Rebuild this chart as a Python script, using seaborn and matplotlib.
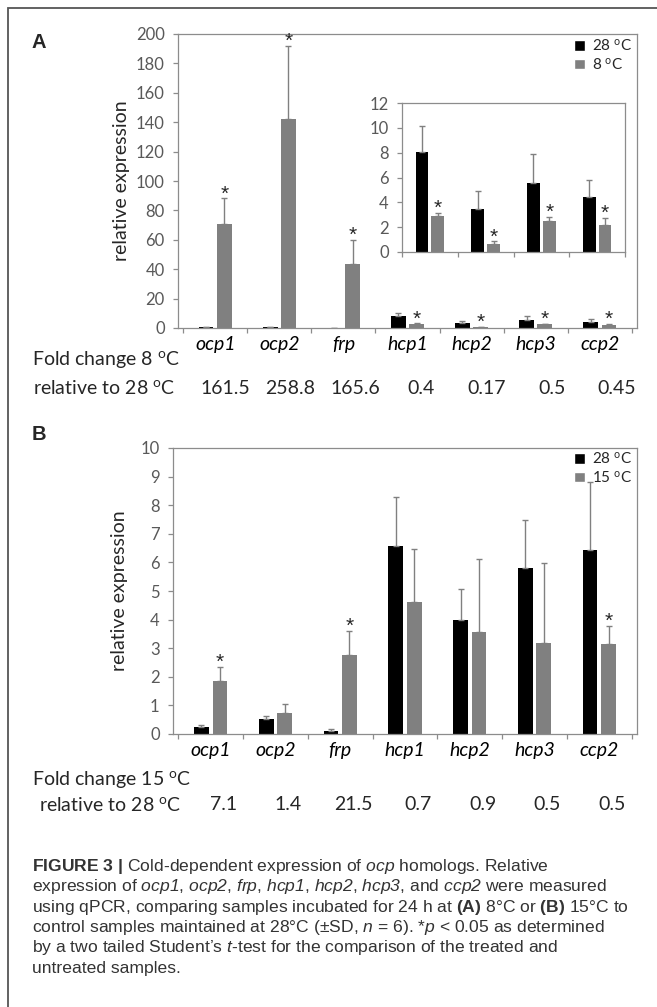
import numpy as np
import pandas as pd
import matplotlib
matplotlib.use("Agg")
import matplotlib.pyplot as plt
import seaborn as sns
from matplotlib.patches import Patch, Rectangle
from matplotlib.transforms import blended_transform_factory

# ---- data ----
genes = ["ocp1", "ocp2", "frp", "hcp1", "hcp2", "hcp3", "ccp2"]

# panel A: 28 C control vs 8 C
a_28 = [0.44, 0.55, 0.26, 8.03, 3.44, 5.58, 4.40]
a_28_sd = [0.1, 0.3, 0.05, 2.14, 1.50, 2.34, 1.40]
a_8 = [71.0, 142.3, 43.5, 2.93, 0.64, 2.47, 2.15]
a_8_sd = [17.2, 49.5, 16.4, 0.24, 0.22, 0.38, 0.62]
a_sig = [True, True, True, True, True, True, True]
a_fold = ["161.5", "258.8", "165.6", "0.4", "0.17", "0.5", "0.45"]

# panel B: 28 C control vs 15 C
b_28 = [0.26, 0.51, 0.12, 6.58, 4.00, 5.80, 6.43]
b_28_sd = [0.04, 0.11, 0.07, 1.72, 1.08, 1.67, 2.37]
b_15 = [1.84, 0.72, 2.77, 4.60, 3.55, 3.17, 3.15]
b_15_sd = [0.52, 0.32, 0.83, 1.86, 2.56, 2.82, 0.64]
b_sig = [True, False, True, False, False, False, True]
b_fold = ["7.1", "1.4", "21.5", "0.7", "0.9", "0.5", "0.5"]

caption = [
    r"$\mathbf{FIGURE\ 3\ |}$ Cold-dependent expression of $\mathit{ocp}$ homologs. Relative",
    r"expression of $\mathit{ocp1}$, $\mathit{ocp2}$, $\mathit{frp}$, $\mathit{hcp1}$, $\mathit{hcp2}$, $\mathit{hcp3}$, and $\mathit{ccp2}$ were measured",
    r"using qPCR, comparing samples incubated for 24 h at $\mathbf{(A)}$ 8°C or $\mathbf{(B)}$ 15°C to",
    r"control samples maintained at 28°C (±SD, $\mathit{n}$ = 6). *$\mathit{p}$ < 0.05 as determined",
    r"by a two tailed Student’s $\mathit{t}$-test for the comparison of the treated and",
    "untreated samples.",
]

BLACK = "#000000"
GRAY = "#808080"
ERR = "#808080"
SPINE = "#8c8c8c"
TICKTXT = "#595959"
CAPFONT = ["Liberation Sans", "DejaVu Sans"]

sns.set_style("white")
plt.rcParams["font.family"] = ["Lato", "DejaVu Sans"]
plt.rcParams["mathtext.fontset"] = "custom"
# digits inside \mathit fall back to rm, so rm is the italic caption face
plt.rcParams["mathtext.rm"] = "Liberation Sans:italic"
plt.rcParams["mathtext.it"] = "Liberation Sans:italic"
plt.rcParams["mathtext.bf"] = "Liberation Sans:bold"
plt.rcParams["mathtext.sf"] = "Lato"

W, H = 657, 1007
fig = plt.figure(figsize=(W / 100, H / 100), dpi=100)


def px_axes(x0, y0, x1, y1):
    return fig.add_axes([x0 / W, 1 - y1 / H, (x1 - x0) / W, (y1 - y0) / H])


def deg(t):
    return t + r" $^{\mathsf{o}}$C"


def draw_bars(ax, names, v28, sd28, vcold, sdcold, sig, cold):
    n = len(names)
    df = pd.DataFrame({"gene": names * 2,
                       "temp": ["28"] * n + [cold] * n,
                       "value": v28 + vcold})
    sns.barplot(data=df, x="gene", y="value", hue="temp", palette=[BLACK, GRAY],
                width=0.57, gap=0.2, errorbar=None, legend=False, saturation=1,
                linewidth=0, ax=ax)
    bars = list(ax.containers)
    for cont, sds in zip(bars, [sd28, sdcold]):
        xs = [b.get_x() + b.get_width() / 2 for b in cont]
        ys = [b.get_height() for b in cont]
        ax.errorbar(xs, ys, yerr=[np.zeros(len(sds)), sds], fmt="none",
                    ecolor=ERR, elinewidth=1, capsize=2.5, capthick=1)
    # significance stars above the cold-treated bars
    for b, s, flag in zip(bars[1], sdcold, sig):
        if flag:
            ax.annotate("*", xy=(b.get_x() + b.get_width() / 2, b.get_height() + s),
                        xytext=(0, -0.8), textcoords="offset points",
                        ha="center", va="baseline", fontsize=15,
                        family=["Liberation Sans"])


def style_axes(ax, ymax, step, labels=True):
    ax.set_ylim(0, ymax)
    ax.set_yticks(np.arange(0, ymax + step / 2, step))
    ax.set_xlabel("")
    ax.set_ylabel("")
    for sp in ax.spines.values():
        sp.set_visible(True)
        sp.set_color(SPINE)
        sp.set_linewidth(0.9)
    n = len(ax.get_xticks())
    ax.set_xticks(np.arange(-0.5, n, 1), minor=True)
    ax.tick_params(axis="y", left=True, length=3.6, width=0.9, color=SPINE,
                   labelcolor=TICKTXT, labelsize=12, pad=6)
    ax.tick_params(axis="x", which="major", bottom=True, length=0, pad=5.5,
                   labelsize=14, labelcolor="black")
    ax.tick_params(axis="x", which="minor", bottom=True, length=3.6, width=0.9,
                   color=SPINE)
    if labels:
        for t in ax.get_xticklabels():
            t.set_fontstyle("italic")
    else:
        ax.set_xticklabels([])


# ---- panel A ----
axA = px_axes(178, 34, 637, 328)
draw_bars(axA, genes, a_28, a_28_sd, a_8, a_8_sd, a_sig, "8")
style_axes(axA, 200, 20)
axA.set_ylabel("relative expression", fontsize=14)
axA.yaxis.set_label_coords(-0.105, 0.5)

# inset zooming on the small values
axI = px_axes(402, 103, 625, 252)
draw_bars(axI, genes[3:], a_28[3:], a_28_sd[3:], a_8[3:], a_8_sd[3:], a_sig[3:], "8")
style_axes(axI, 12, 2, labels=False)

fig.legend(handles=[Patch(facecolor=BLACK, label=deg("28")),
                    Patch(facecolor=GRAY, label=deg("8"))],
           loc="upper right", bbox_to_anchor=(632 / W, 1 - 38 / H), frameon=False,
           fontsize=11, handlelength=0.7, handleheight=0.7, handletextpad=0.45,
           labelspacing=0.15, borderpad=0, borderaxespad=0)

# ---- panel B ----
axB = px_axes(173, 448, 637, 734)
draw_bars(axB, genes, b_28, b_28_sd, b_15, b_15_sd, b_sig, "15")
style_axes(axB, 10, 1)
axB.set_ylabel("relative expression", fontsize=14)
axB.yaxis.set_label_coords(-0.097, 0.5)

fig.legend(handles=[Patch(facecolor=BLACK, label=deg("28")),
                    Patch(facecolor=GRAY, label=deg("15"))],
           loc="upper right", bbox_to_anchor=(632 / W, 1 - 451 / H), frameon=False,
           fontsize=11, handlelength=0.7, handleheight=0.7, handletextpad=0.45,
           labelspacing=0.15, borderpad=0, borderaxespad=0)

# ---- panel letters and fold-change rows ----
fig.text(32 / W, 1 - 42 / H, "A", fontsize=14.5, fontweight="bold",
         family=["Liberation Sans"], va="center")
fig.text(32 / W, 1 - 435 / H, "B", fontsize=14.5, fontweight="bold",
         family=["Liberation Sans"], va="center")

fig.text(32 / W, 1 - 360 / H, deg("Fold change 8"), fontsize=14, va="center")
fig.text(33 / W, 1 - 388 / H, deg("relative to 28"), fontsize=14, va="center")
fig.text(32 / W, 1 - 779 / H, deg("Fold change 15"), fontsize=14, va="center")
fig.text(39 / W, 1 - 805 / H, deg("relative to 28"), fontsize=14, va="center")

trA = blended_transform_factory(axA.transData, fig.transFigure)
for i, v in enumerate(a_fold):
    axA.text(i + 0.15 + 0.02 * i, 1 - 388 / H, v, transform=trA, ha="center",
             va="center", fontsize=14)
trB = blended_transform_factory(axB.transData, fig.transFigure)
for i, v in enumerate(b_fold):
    axB.text(i + 0.2, 1 - 805 / H, v, transform=trB, ha="center",
             va="center", fontsize=14)

# ---- caption ----
for k, line in enumerate(caption):
    fig.text(32 / W, 1 - (871 + 20.3 * k) / H, line, fontsize=12.6, va="baseline",
             family=CAPFONT, color="#333333")

# outer frame, open to the right and bottom edges
fig.add_artist(Rectangle((8 / W, -0.1), 1.2, 1.1 - 8 / H,
                         transform=fig.transFigure, fill=False,
                         edgecolor="#555555", linewidth=1.3))

fig.savefig("out.png", dpi=100)
